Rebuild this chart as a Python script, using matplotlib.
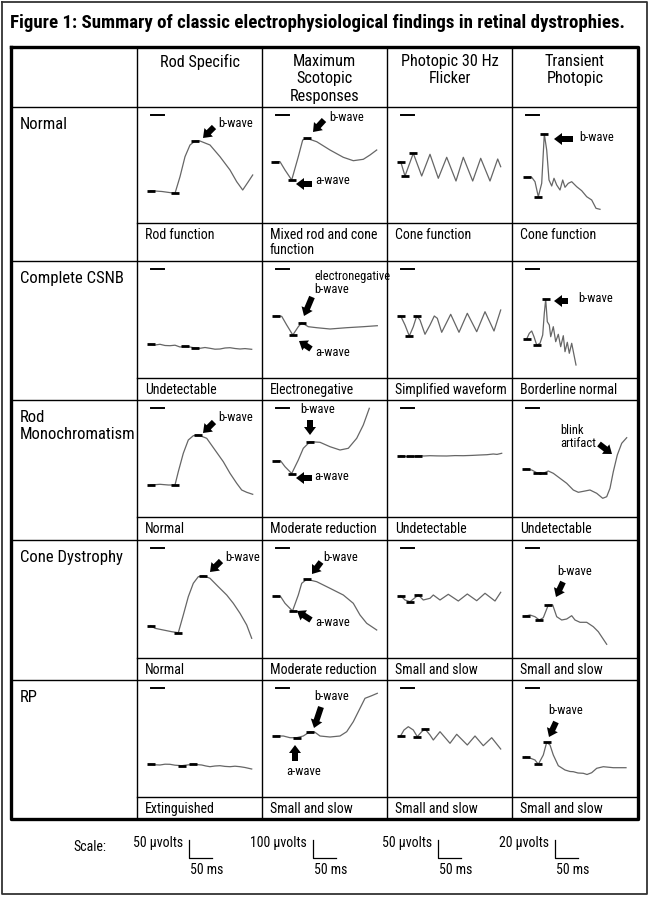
import matplotlib
import matplotlib.pyplot as plt
from matplotlib.patches import FancyArrow
matplotlib.use('agg')

plt.rcParams['font.family'] = ['Roboto Condensed', 'Liberation Sans', 'DejaVu Sans']

title = "Figure 1: Summary of classic electrophysiological findings in retinal dystrophies."
col_headers = ["Rod Specific", "Maximum\nScotopic\nResponses", "Photopic 30 Hz\nFlicker", "Transient\nPhotopic"]
row_labels = ["Normal", "Complete CSNB", "Rod\nMonochromatism", "Cone Dystrophy", "RP"]
captions = [
    ["Rod function", "Mixed rod and cone\nfunction", "Cone function", "Cone function"],
    ["Undetectable", "Electronegative", "Simplified waveform", "Borderline normal"],
    ["Normal", "Moderate reduction", "Undetectable", "Undetectable"],
    ["Normal", "Moderate reduction", "Small and slow", "Small and slow"],
    ["Extinguished", "Small and slow", "Small and slow", "Small and slow"],
]
scale_volts = ["50 \u00b5volts", "100 \u00b5volts", "50 \u00b5volts", "20 \u00b5volts"]
scale_time = ["50 ms", "50 ms", "50 ms", "50 ms"]

# traces: time (cell units) / amplitude (cell units)
normal_rod_t = [13.7, 25, 38, 43, 48, 53, 58, 63, 73, 83, 93, 99.7, 105.7, 111.3, 115.7]
normal_rod_v = [32.3, 31.5, 29.7, 46.3, 66.3, 78, 82, 82, 78, 66.3, 53, 41.3, 33, 41.3, 48]
normal_rod_marks = [0, 2, 6]
normal_max_t = [13, 18, 23, 29.7, 36.3, 40.7, 44.7, 54.7, 68, 81.3, 91.3, 101.3, 108, 114.7]
normal_max_v = [61.3, 61.3, 53, 43, 66.3, 83, 84.7, 81.3, 73, 65.7, 62.3, 63.7, 68, 73]
normal_max_marks = [0, 3, 6]
normal_flk_t = [13.7, 18, 26.3, 34.7, 43, 51.3, 59.7, 69, 76.3, 85.7, 93.7, 103, 110.7, 113.7]
normal_flk_v = [61.3, 47, 69.7, 47, 68.7, 44.7, 65.7, 42, 65.7, 42, 64.7, 42, 64, 56.3]
normal_flk_marks = [0, 1, 2]
normal_pho_t = [14.7, 19.7, 23, 26.3, 29.7, 32.3, 34.7, 37, 39.7, 42, 44.7, 48, 50.7, 53, 56.3,
                59.7, 64.7, 69.7, 74.7, 79.7, 84, 88]
normal_pho_v = [45.7, 45.7, 41.3, 26.3, 39.7, 89, 73, 43, 37, 44.7, 38, 33, 43, 35.7, 39.7,
                41.3, 36.3, 32.3, 26.3, 23, 14.7, 13.7]
normal_pho_marks = [0, 3, 5]

csnb_rod_t = [13.7, 18, 23, 28, 33, 38, 43, 48, 53, 58, 63, 68, 73, 78, 83, 88, 93, 98, 103, 108, 114.7]
csnb_rod_v = [33.7, 33, 33.7, 32.5, 32.3, 32.8, 31, 31.5, 31, 30, 29.7, 30.5, 29.7, 28.8, 29, 30,
              30.3, 29.5, 29, 29.4, 28.7]
csnb_rod_marks = [0, 7, 9]
csnb_max_t = [14, 19.7, 24.7, 30.8, 36.3, 39.7, 46.3, 54.7, 68, 84.7, 101.3, 115.3]
csnb_max_v = [62, 61.7, 53, 43, 51.3, 55.3, 51.3, 50.3, 49, 50.3, 51.3, 52.3]
csnb_max_marks = [0, 3, 5]
csnb_flk_t = [13.7, 18, 22.3, 26.3, 29.7, 33, 38, 43, 47.3, 50.3, 54.7, 63.7, 72, 80.3, 89.7, 98, 107, 113.7]
csnb_flk_v = [62, 53, 42, 51.3, 62, 58, 43.7, 53, 62, 59.7, 45.7, 63.7, 45.7, 64.7, 46.3, 66.3, 47, 68]
csnb_flk_marks = [0, 2, 4]
csnb_pho_t = [14.7, 17.3, 19.7, 22, 24.7, 28, 30.7, 32.3, 33.7, 35.3, 37.3, 38.7, 41.3, 43.7, 46.3,
              48.7, 51.3, 53, 55.3, 57.3, 59.7, 62, 64]
csnb_pho_v = [39, 44.7, 47, 41.3, 33, 34.7, 43, 64.7, 78.7, 56.3, 53, 41.3, 51.3, 36.3, 43.7,
              31.3, 42.3, 26.3, 35.7, 24.7, 34.7, 23, 13]
csnb_pho_marks = [0, 4, 8]

rodmono_rod_t = [13.7, 23, 31.3, 38, 41.3, 46.3, 51.3, 56.3, 61.3, 69.7, 78, 86.3, 93, 99.7, 104.7, 109.7, 115.7]
rodmono_rod_v = [32, 32.7, 32, 32, 45.3, 63.7, 77, 81.3, 82, 78.7, 67, 55.3, 43.7, 33.7, 27, 24.7, 22.7]
rodmono_rod_marks = [0, 3, 8]
rodmono_max_t = [14, 18.7, 23, 29.7, 36.3, 41.3, 48, 58, 68, 78, 86.3, 94.7, 101.3, 107.3]
rodmono_max_v = [56, 56, 50.3, 43.5, 57, 68.7, 75.3, 74.7, 70.3, 67, 68.7, 78.7, 92, 108.7]
rodmono_max_marks = [0, 3, 6]
rodmono_flk_t = [13.7, 17, 20, 23, 26.3, 29, 31.3, 37, 43, 50, 59.7, 68, 76.3, 85, 93, 100, 106.3, 110, 114.7]
rodmono_flk_v = [61.3, 60.8, 60.3, 60.5, 60.3, 61, 61.3, 61, 61.3, 61.1, 61, 61.4, 61.3, 61.6, 62,
                 62.3, 63, 62.6, 63.7]
rodmono_flk_marks = [0, 3, 6]
rodmono_pho_t = [13.7, 19.7, 24.7, 31.3, 36.3, 41.3, 48, 54.7, 61.3, 66.3, 73, 78, 84.7, 90.7, 94.7,
                 98, 101.3, 105.3, 109.7, 114.7]
rodmono_pho_v = [48, 47, 44.3, 43.7, 46, 43.7, 38.7, 33.7, 27, 24.7, 26, 27, 23.7, 18.7, 20.3,
                 28.7, 45.3, 62, 73.7, 79.3]
rodmono_pho_marks = [0, 2, 3]

conedys_rod_t = [13.7, 18, 26.3, 34.7, 41.3, 46.3, 51.3, 56.3, 61.3, 66.3, 73, 81.3, 89.7, 96.3, 103, 109.7, 114.7]
conedys_rod_v = [32.3, 29.7, 28, 26.3, 25.3, 43, 61.3, 74.7, 81.3, 82.3, 79.7, 71.3, 63, 54.7, 44.7, 33, 19.7]
conedys_rod_marks = [0, 4, 9]
conedys_max_t = [14, 18.7, 23, 30.5, 36.3, 39.7, 44.7, 54.7, 68, 81.3, 91.3, 98, 104.7, 114.7]
conedys_max_v = [62, 61.3, 54.7, 47, 63, 74.7, 78.7, 76.3, 69.7, 63, 54.7, 43, 34.7, 28]
conedys_max_marks = [0, 3, 6]
conedys_flk_t = [13.7, 18, 23, 28, 31.3, 36.3, 43, 46.3, 53, 61.3, 71.3, 80.3, 89.7, 98, 108, 113.7]
conedys_flk_v = [62.3, 58, 56.3, 60.3, 63, 58, 59.7, 63, 58, 63.7, 57, 64, 57.3, 64.7, 57, 65.7]
conedys_flk_marks = [0, 2, 4]
conedys_pho_t = [13.7, 18, 23, 27.3, 31.3, 36.3, 40.7, 44.7, 49.7, 54.7, 59.7, 63, 68, 74.7, 81.3, 86.3, 90.7, 94.7]
conedys_pho_v = [42, 43, 41.3, 38, 40.3, 53, 53, 41.3, 38, 39, 42.3, 38, 35.7, 35.7, 31.3, 26.3, 19.7, 13.7]
conedys_pho_marks = [0, 3, 5]

rp_rod_t = [13.7, 18, 23, 28, 33, 38, 44.7, 50, 56.3, 60, 64.7, 69, 73, 78, 83, 88, 93, 98, 103, 108, 114.7]
rp_rod_v = [32.7, 32.2, 32, 32.8, 32.7, 31.8, 31.3, 32, 32.7, 32.4, 32, 31, 30.3, 31, 31.3, 30.6,
            30.3, 30.8, 30.3, 29.5, 28]
rp_rod_marks = [0, 6, 8]
rp_max_t = [14, 21.3, 28, 34.7, 41.3, 48, 53, 58, 68, 78, 84.7, 91.3, 98, 103, 109.7, 115.3]
rp_max_v = [61, 61, 59.3, 59.3, 61, 65.3, 64.7, 61, 60, 61, 65.3, 75.3, 88.7, 98.7, 101.3, 103.7]
rp_max_marks = [0, 3, 5]
rp_flk_t = [13.7, 17, 21.3, 26.3, 30.3, 34.7, 38, 43, 46.3, 53, 63, 69.7, 80.3, 88, 96.3, 104.7, 113.7]
rp_flk_v = [61.3, 67, 70.3, 67, 60.3, 65.3, 68, 62, 57, 65.3, 53.7, 62.7, 52, 61, 51.3, 59.3, 48]
rp_flk_marks = [0, 4, 6]
rp_pho_t = [13.7, 18.7, 23, 26.3, 31.3, 34.7, 38, 41.3, 46.3, 53, 58, 61.3, 66, 71.3, 75, 79.7,
            84.7, 91.3, 101.3, 114]
rp_pho_v = [40.3, 38.7, 37, 32.7, 42, 54.7, 52, 42, 31.3, 27, 25.5, 25.3, 24, 23.7, 22.5, 24.3,
            28.7, 30.3, 29.3, 29.3]
rp_pho_marks = [0, 3, 5]

traces = [
    [(normal_rod_t, normal_rod_v, normal_rod_marks), (normal_max_t, normal_max_v, normal_max_marks),
     (normal_flk_t, normal_flk_v, normal_flk_marks), (normal_pho_t, normal_pho_v, normal_pho_marks)],
    [(csnb_rod_t, csnb_rod_v, csnb_rod_marks), (csnb_max_t, csnb_max_v, csnb_max_marks),
     (csnb_flk_t, csnb_flk_v, csnb_flk_marks), (csnb_pho_t, csnb_pho_v, csnb_pho_marks)],
    [(rodmono_rod_t, rodmono_rod_v, rodmono_rod_marks), (rodmono_max_t, rodmono_max_v, rodmono_max_marks),
     (rodmono_flk_t, rodmono_flk_v, rodmono_flk_marks), (rodmono_pho_t, rodmono_pho_v, rodmono_pho_marks)],
    [(conedys_rod_t, conedys_rod_v, conedys_rod_marks), (conedys_max_t, conedys_max_v, conedys_max_marks),
     (conedys_flk_t, conedys_flk_v, conedys_flk_marks), (conedys_pho_t, conedys_pho_v, conedys_pho_marks)],
    [(rp_rod_t, rp_rod_v, rp_rod_marks), (rp_max_t, rp_max_v, rp_max_marks),
     (rp_flk_t, rp_flk_v, rp_flk_marks), (rp_pho_t, rp_pho_v, rp_pho_marks)],
]

# annotations per cell: (row, col, text, text_x, text_y, tail, head)
notes = [
    (0, 0, "b-wave", 81, 100, (77, 96), (66, 85)),
    (0, 1, "b-wave", 67, 106, (62, 103), (51, 91)),
    (0, 1, "a-wave", 53, 42, (50, 39), (34, 39)),
    (0, 3, "b-wave", 67, 86, (61, 84), (42, 84)),
    (1, 1, "electronegative\nb-wave", 52, 95, (50, 81), (42, 62)),
    (1, 1, "a-wave", 53, 26, (49, 29), (37, 37)),
    (1, 3, "b-wave", 66, 80, (56, 77), (42, 77)),
    (2, 0, "b-wave", 81, 100, (77, 95), (66, 84)),
    (2, 1, "b-wave", 38, 108, (48, 97), (48, 82)),
    (2, 1, "a-wave", 52, 41, (50, 39), (34, 39)),
    (2, 3, "blink\nartifact", 48, 80, (87, 73), (100, 63)),
    (3, 0, "b-wave", 88, 101, (84, 97), (73, 86)),
    (3, 1, "b-wave", 61, 101, (59, 96), (50, 84)),
    (3, 1, "a-wave", 53, 36, (49, 38), (35, 47)),
    (3, 3, "b-wave", 45, 87, (51, 76), (44, 61)),
    (4, 1, "b-wave", 52, 101, (59, 90), (52, 69)),
    (4, 1, "a-wave", 24, 26, (33, 36), (33, 52)),
    (4, 3, "b-wave", 36, 87, (44, 75), (37, 60)),
]

W, H = 650, 897
col_edges = [11, 137, 262, 387, 512, 638]
row_tops = [107, 261, 400, 540, 680]
cap_lines = [223, 378, 517, 658, 797]
table_top, table_bottom = 47, 819

fig = plt.figure(figsize=(6.5, 8.97), dpi=100)
base = fig.add_axes([0, 0, 1, 1])
base.set_xlim(0, W)
base.set_ylim(H, 0)
base.axis('off')

# outer frame and table grid
base.plot([2, 647, 647, 2, 2], [2, 2, 894, 894, 2], color='#333333', lw=1.3)
base.plot([11, 638, 638, 11, 11], [table_top, table_top, table_bottom, table_bottom, table_top],
          color='black', lw=2.4)
for x in col_edges[1:-1]:
    base.plot([x, x], [table_top, table_bottom], color='black', lw=1)
for y in row_tops:
    base.plot([11, 638], [y, y], color='black', lw=1)
for y in cap_lines:
    base.plot([137, 638], [y, y], color='black', lw=1)

base.text(10, 23, title, fontsize=13.6, fontweight='bold', va='center', ha='left')

for i, h in enumerate(col_headers):
    xc = (col_edges[i + 1] + col_edges[i + 2]) / 2
    base.text(xc, 54, h, fontsize=11.7, ha='center', va='top', linespacing=1.2)

for r, lab in enumerate(row_labels):
    base.text(20, row_tops[r] + 10, lab, fontsize=12, ha='left', va='top', linespacing=1.2)
    for c in range(4):
        base.text(col_edges[c + 1] + 8, cap_lines[r] + 5, captions[r][c], fontsize=10,
                  ha='left', va='top', linespacing=1.05)

# scale bars
base.text(73, 847, "Scale:", fontsize=10, ha='left', va='center')
scale_x = [189, 313, 438, 555]
for i in range(4):
    x = scale_x[i]
    base.text(x - 6, 843, scale_volts[i], fontsize=10, ha='right', va='center')
    base.plot([x, x, x + 23], [840, 858, 858], color='black', lw=0.9)
    base.text(x + 1, 870, scale_time[i], fontsize=10, ha='left', va='center')

# waveform cells
cell_axes = {}
for r in range(5):
    for c in range(4):
        x0, x1 = col_edges[c + 1], col_edges[c + 2]
        h = cap_lines[r] - row_tops[r]
        ax = fig.add_axes([x0 / W, 1 - cap_lines[r] / H, (x1 - x0) / W, h / H])
        ax.set_xlim(0, x1 - x0)
        ax.set_ylim(0, h)
        ax.axis('off')
        t, v, marks = traces[r][c]
        ax.plot(t, v, color='#666666', lw=0.9)
        ax.plot([t[k] for k in marks], [v[k] for k in marks], '_', color='black', ms=6, mew=2)
        ax.plot([14, 27], [h - 8, h - 8], color='black', lw=1.4)
        cell_axes[(r, c)] = ax

for r, c, txt, tx, ty, tail, head in notes:
    ax = cell_axes[(r, c)]
    ax.text(tx, ty, txt, fontsize=9, ha='left', va='center', linespacing=1.05)
    ax.add_patch(FancyArrow(tail[0], tail[1], head[0] - tail[0], head[1] - tail[1], width=6,
                            head_width=12, head_length=8, length_includes_head=True,
                            color='black', lw=0))

plt.savefig("out.png", dpi=100)
